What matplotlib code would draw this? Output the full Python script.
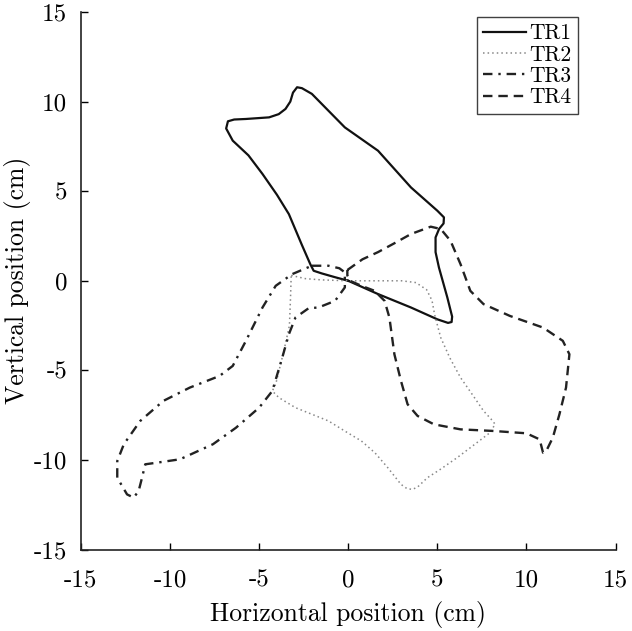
"""Hand trajectories TR1-TR4 in the vertical plane."""

import matplotlib

matplotlib.use("Agg")

import matplotlib.pyplot as plt

# traced trajectories (cm)
tr1_x = [0.0, -0.74, -1.48, -1.94, -2.13, -2.6, -3.33, -4.0, -4.81, -5.6, -6.48, -6.85, -6.75,
         -6.4, -5.74, -4.44, -3.9, -3.52, -3.25, -3.1, -2.87, -2.6, -2.04, -0.19, 1.67, 3.52,
         5.0, 5.37, 5.35, 5.1, 4.9, 4.9, 5.09, 5.56, 5.83, 5.8, 5.6, 5.0, 3.52, 1.67, 0.0]
tr1_y = [0.0, 0.2, 0.41, 0.56, 0.93, 2.0, 3.72, 4.8, 5.96, 7.0, 7.82, 8.5, 8.9,
         9.0, 9.03, 9.12, 9.3, 9.59, 10.0, 10.5, 10.8, 10.75, 10.43, 8.56, 7.26, 5.21,
         3.91, 3.54, 3.2, 2.9, 2.42, 1.6, 0.74, -0.93, -2.0, -2.3, -2.35, -2.15, -1.49, -0.74, 0.0]

tr2_x = [-3.2, -2.4, -1.5, 0.0, 1.5, 3.0, 3.8, 4.4, 4.7, 4.85, 5.19, 5.7, 6.3, 7.0, 7.59, 8.0,
         8.24, 7.96, 7.0, 6.11, 5.2, 4.44, 3.9, 3.61, 3.3, 2.96, 2.22, 1.5, 0.74, -0.2, -1.11,
         -2.96, -3.89, -4.26, -4.07, -3.61, -3.3, -3.24, -3.2]
tr2_y = [0.3, 0.12, 0.05, 0.0, 0.0, 0.0, -0.1, -0.5, -1.1, -1.9, -3.17, -4.3, -5.4, -6.4, -7.26, -7.7,
         -8.0, -8.47, -9.2, -9.87, -10.5, -10.99, -11.5, -11.64, -11.6, -11.36, -10.43, -9.6, -8.94, -8.38, -7.82,
         -7.08, -6.52, -6.15, -5.77, -3.91, -2.5, -1.0, 0.3]

tr3_x = [-2.04, -1.11, -0.5, -0.19, -0.19, -0.74, -1.67, -2.22, -2.96, -3.33, -3.7, -4.26, -5.0,
         -6.3, -7.59, -9.44, -10.74, -11.39, -11.57, -11.76, -12.04, -12.41, -12.96, -12.96,
         -12.59, -11.67, -10.37, -8.89, -7.22, -6.48, -5.74, -4.81, -4.07, -3.15, -2.04]
tr3_y = [0.84, 0.84, 0.7, 0.47, -0.37, -1.12, -1.49, -1.53, -2.05, -2.98, -4.28, -6.15, -7.08,
         -8.2, -9.12, -9.96, -10.15, -10.24, -10.99, -11.73, -12.1, -11.92, -10.99, -10.06,
         -9.12, -7.82, -6.7, -5.96, -5.31, -4.75, -3.35, -1.49, -0.28, 0.37, 0.84]

tr4_x = [-0.05, 0.8, 1.67, 2.6, 3.52, 4.63, 5.19, 5.74, 6.3, 6.85, 7.59, 9.07, 10.93, 12.04,
         12.41, 12.22, 11.85, 11.48, 11.11, 10.93, 10.74, 10.0, 8.15, 6.3, 4.81, 3.89, 3.33,
         2.96, 2.59, 2.31, 2.04, 1.48, 0.74, 0.1, -0.05, -0.05]
tr4_y = [0.6, 1.2, 1.6, 2.1, 2.61, 3.02, 2.89, 2.23, 0.93, -0.56, -1.3, -1.96, -2.61, -3.35,
         -4.1, -5.96, -7.45, -8.75, -9.5, -9.59, -8.85, -8.51, -8.38, -8.29, -8.01, -7.54, -6.89,
         -5.59, -4.1, -2.05, -1.12, -0.56, -0.28, 0.0, 0.3, 0.6]

ticks = [-15, -10, -5, 0, 5, 10, 15]
tick_labels = ["-15", "-10", "-5", "0", "5", "10", "15"]

plt.rcParams["font.family"] = "serif"
plt.rcParams["font.serif"] = ["cmr10", "DejaVu Serif"]
plt.rcParams["axes.unicode_minus"] = False
plt.rcParams["axes.formatter.use_mathtext"] = True

fig = plt.figure(figsize=(6.32, 6.31), dpi=100)
ax = fig.add_axes([0.128, 0.129, 0.846, 0.852])

ax.plot(tr1_x, tr1_y, color="#111111", lw=1.6, ls="-", label="TR1")
ax.plot(tr2_x, tr2_y, color="#888888", lw=1.1, ls=(0, (1, 2)), label="TR2")
ax.plot(tr3_x, tr3_y, color="#222222", lw=1.7, ls=(0, (4, 2.5, 1, 2.5)), label="TR3")
ax.plot(tr4_x, tr4_y, color="#222222", lw=1.7, ls=(0, (4, 2.5)), label="TR4")

ax.set_xlim(-15, 15)
ax.set_ylim(-15, 15)
ax.set_xticks(ticks)
ax.set_xticklabels(tick_labels)
ax.set_yticks(ticks)
ax.set_yticklabels(tick_labels)
ax.tick_params(direction="in", length=5, width=1.0, labelsize=18)
ax.tick_params(axis="x", pad=14)
ax.tick_params(axis="y", pad=10)
for side in ("top", "right"):
    ax.spines[side].set_visible(False)
for side in ("left", "bottom"):
    ax.spines[side].set_linewidth(1.2)
    ax.spines[side].set_color("#222222")

ax.set_xlabel("Horizontal position (cm)", fontsize=18.5, labelpad=7)
ax.set_ylabel("Vertical position (cm)", fontsize=18.5, labelpad=2)

leg = ax.legend(loc="upper right", bbox_to_anchor=(0.94, 1.0), fontsize=15.5, frameon=True,
                fancybox=False, edgecolor="#111111", handlelength=2.0, handletextpad=0.15,
                borderpad=0.3, labelspacing=0.08, borderaxespad=0.25)
leg.get_frame().set_linewidth(1.0)

fig.savefig("out.png", dpi=100)
